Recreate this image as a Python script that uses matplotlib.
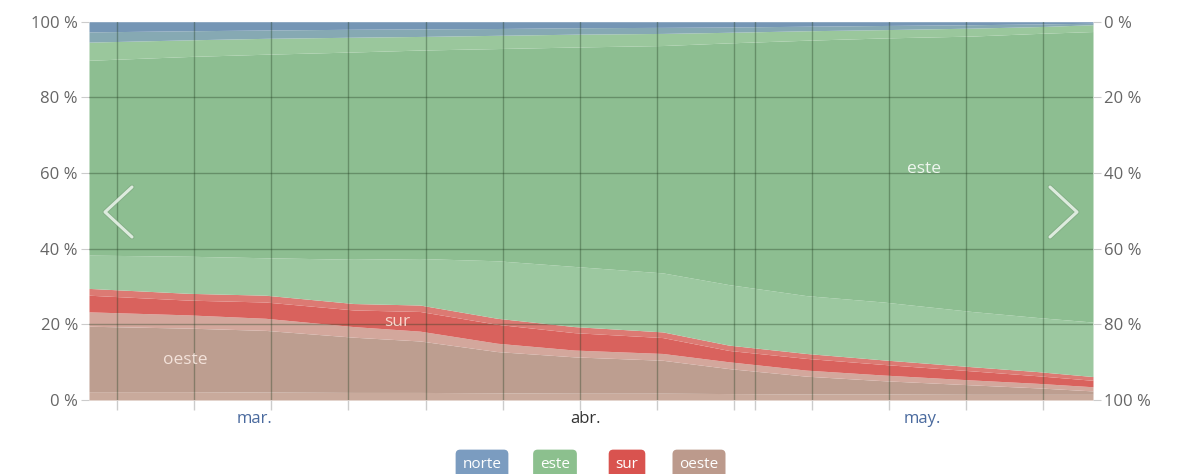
import matplotlib.pyplot as plt
import matplotlib.patheffects as pe

# días desde el inicio de marzo
dias = [0, 9, 16, 24, 30, 37, 44, 52, 58, 65, 72, 80, 86, 91]

# límites acumulados (%) de cada franja, de abajo hacia arriba
oeste_base = [2.2, 2.2, 2.1, 2.0, 2.0, 1.9, 1.8, 1.8, 1.7, 1.6, 1.6, 1.5, 1.5, 1.5]
oeste_nucleo = [19.5, 19.0, 18.4, 16.6, 15.6, 12.8, 11.4, 10.5, 8.3, 6.3, 5.1, 4.0, 3.2, 2.4]
oeste_tope = [23.3, 22.5, 21.6, 19.4, 18.2, 15.0, 13.2, 12.3, 10.1, 7.9, 6.6, 5.3, 4.4, 3.5]
sur_nucleo = [27.7, 26.4, 25.9, 23.8, 23.4, 20.0, 17.8, 16.5, 13.1, 11.0, 9.4, 7.7, 6.4, 5.2]
sur_tope = [29.5, 28.2, 27.7, 25.5, 25.1, 21.6, 19.4, 18.0, 14.5, 12.3, 10.6, 8.8, 7.5, 6.2]
este_base = [38.3, 38.0, 37.6, 37.2, 37.4, 36.8, 35.3, 33.6, 30.5, 27.6, 25.9, 23.4, 21.8, 20.6]
este_nucleo = [89.8, 90.8, 91.4, 92.0, 92.5, 92.9, 93.3, 93.7, 94.4, 95.1, 95.7, 96.2, 96.9, 97.4]
este_tope = [94.6, 95.2, 95.6, 95.9, 96.1, 96.4, 96.7, 96.9, 97.2, 97.6, 97.9, 98.3, 98.7, 99.2]
norte_nucleo = [97.3, 97.6, 97.8, 98.0, 98.1, 98.2, 98.4, 98.5, 98.6, 98.8, 99.0, 99.2, 99.4, 99.6]
tope = [100] * len(dias)

meses = ['mar.', 'abr.', 'may.']
meses_pos = [15, 45, 75.5]
series = ['norte', 'este', 'sur', 'oeste']

limites = [[0] * len(dias), oeste_base, oeste_nucleo, oeste_tope, sur_nucleo, sur_tope,
           este_base, este_nucleo, este_tope, norte_nucleo, tope]
colores = ['#c9aa9c', '#bd9e90', '#d3a79c', '#d9625d', '#dc7a73',
           '#9cc8a0', '#8dbe91', '#9ac79c', '#86a9b3', '#7596b5']

fig = plt.figure(figsize=(11.9, 4.74), dpi=100)
plt.rcParams['font.family'] = ['Open Sans', 'DejaVu Sans']
ax = fig.add_axes([89 / 1190, 74 / 474, 1004 / 1190, 378.3 / 474])

for i in range(len(colores)):
    ax.fill_between(dias, limites[i], limites[i + 1], color=colores[i], lw=0)

ax.set_xlim(0, 91)
ax.set_ylim(0, 100)

# rejilla semanal y cambio de mes
lineas_x = [2.5 + 7 * k for k in range(13)] + [60.4]
for xv in lineas_x:
    ax.axvline(xv, color='#1e3a1e', alpha=0.35, lw=1)
for yv in [20, 40, 60, 80]:
    ax.axhline(yv, color='#1e3a1e', alpha=0.35, lw=1)

ax.set_xticks(lineas_x)
ax.set_xticklabels([])
ax.tick_params(axis='x', length=7, color='#cccccc', width=1)
for xv, m in zip(meses_pos, meses):
    ax.text(xv, -3, m, ha='center', va='top', fontsize=12,
            color='#333333' if m == 'abr.' else '#4a6a9e')

ax.set_yticks([0, 20, 40, 60, 80, 100])
ax.set_yticklabels([f'{v} %' for v in [0, 20, 40, 60, 80, 100]])
ax.tick_params(axis='y', length=6, color='#cccccc', labelcolor='#666666',
               labelsize=12, pad=2)
for s in ax.spines.values():
    s.set_visible(False)

ax2 = ax.twinx()
ax2.set_ylim(100, 0)
ax2.set_yticks([0, 20, 40, 60, 80, 100])
ax2.set_yticklabels([f'{v} %' for v in [0, 20, 40, 60, 80, 100]])
ax2.tick_params(axis='y', length=6, color='#cccccc', labelcolor='#666666',
                labelsize=12, pad=2)
for s in ax2.spines.values():
    s.set_visible(False)

# etiquetas de serie
ax.text(75.7, 61, 'este', color='#eef5ee', fontsize=12.5, ha='center', va='center')
ax.text(27.9, 20.6, 'sur', color='#f7d6cc', fontsize=12.5, ha='center', va='center')
ax.text(8.7, 10.6, 'oeste', color='#f3e2da', fontsize=12.5, ha='center', va='center')

# flechas de navegación
flecha = dict(color='#eef6ee', lw=2.2, alpha=0.85, solid_capstyle='round',
              path_effects=[pe.Stroke(linewidth=3.5, foreground='#7aa07c', alpha=0.5), pe.Normal()])
ax.plot([(132 - 89) / 1004, (105 - 89) / 1004, (132 - 89) / 1004],
        [(400 - 187) / 378.3, (400 - 212) / 378.3, (400 - 237) / 378.3],
        transform=ax.transAxes, **flecha)
ax.plot([(1050 - 89) / 1004, (1077 - 89) / 1004, (1050 - 89) / 1004],
        [(400 - 187) / 378.3, (400 - 212) / 378.3, (400 - 237) / 378.3],
        transform=ax.transAxes, **flecha)

# leyenda en forma de botones
leyenda_col = ['#7b9cc0', '#8cc08e', '#d9534f', '#bc9a8c']
leyenda_x = [482, 555, 627, 699]
for nombre, c, xp in zip(series, leyenda_col, leyenda_x):
    fig.text(xp / 1190, 1 - 464 / 474, nombre, ha='center', va='center',
             fontsize=11, color='white',
             bbox=dict(boxstyle='round,pad=0.45,rounding_size=0.3', fc=c, ec='none'))

fig.savefig('out.png', dpi=100)
